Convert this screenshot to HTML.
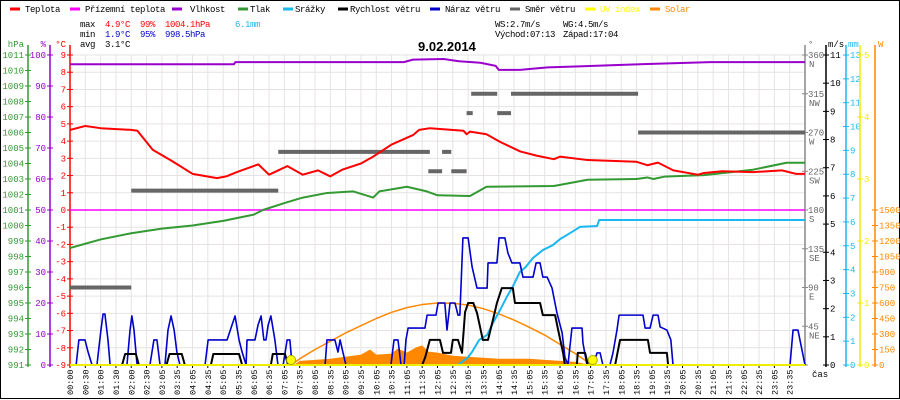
<!DOCTYPE html>
<html><head><meta charset="utf-8"><style>
body{margin:0;background:#fff}
svg{display:block;font-family:"Liberation Mono",monospace;font-size:9px}
</style></head><body>
<svg id="c" width="900" height="400" viewBox="0 0 900 400">
<rect x="0.5" y="0.5" width="899" height="398" fill="#fff" stroke="#000"/>
<g id="grid"></g>
<g id="axes"></g>
<g id="series"></g>
<g font-size="9" letter-spacing="-0.4">
<line x1="10" y1="9" x2="20" y2="9" stroke="#f00" stroke-width="3"/><text x="25" y="12">Teplota</text>
<line x1="70" y1="9" x2="80" y2="9" stroke="#f0f" stroke-width="3"/><text x="85" y="12">Přízemní teplota</text>
<line x1="172" y1="9" x2="182" y2="9" stroke="#90c" stroke-width="3"/><text x="190" y="12">Vlhkost</text>
<line x1="238" y1="9" x2="248" y2="9" stroke="#393" stroke-width="3"/><text x="250" y="12">Tlak</text>
<line x1="283" y1="9" x2="293" y2="9" stroke="#1ab8f0" stroke-width="3"/><text x="295" y="12">Srážky</text>
<line x1="338" y1="9" x2="348" y2="9" stroke="#000" stroke-width="3"/><text x="350" y="12">Rychlost větru</text>
<line x1="430" y1="9" x2="440" y2="9" stroke="#00c" stroke-width="3"/><text x="445" y="12">Náraz větru</text>
<line x1="510" y1="9" x2="520" y2="9" stroke="#666" stroke-width="3"/><text x="525" y="12">Směr větru</text>
<line x1="585" y1="9" x2="595" y2="9" stroke="#ff0" stroke-width="3"/><text x="600" y="12" fill="#ff0">UV index</text>
<line x1="650" y1="9" x2="660" y2="9" stroke="#f80" stroke-width="3"/><text x="665" y="12" fill="#f80">Solar</text>
</g>
<g letter-spacing="-0.4">
<text x="80" y="27">max</text><text x="105" y="27" fill="#f00">4.9°C</text><text x="140" y="27" fill="#f00">99%</text><text x="165" y="27" fill="#f00">1004.1hPa</text><text x="235" y="27" fill="#1ab8f0">6.1mm</text>
<text x="80" y="37">min</text><text x="105" y="37" fill="#00c">1.9°C</text><text x="140" y="37" fill="#00c">95%</text><text x="165" y="37" fill="#00c">998.5hPa</text>
<text x="80" y="47">avg</text><text x="105" y="47">3.1°C</text>
<text x="495" y="27">WS:2.7m/s</text><text x="563" y="27">WG:4.5m/s</text>
<text x="495" y="37">Východ:07:13</text><text x="563" y="37">Západ:17:04</text>
</g>
<text x="418" y="51" font-family="Liberation Sans,sans-serif" font-weight="bold" font-size="13">9.02.2014</text>
</svg>
<script>
const timeLabels=["00:00","00:30","01:00","01:30","02:00","02:30","03:05","03:35","04:05","04:35","05:05","05:35","06:05","06:35","07:05","07:35","08:05","08:35","09:05","09:35","10:05","10:35","11:05","11:35","12:05","12:35","13:05","13:35","14:05","14:35","15:05","15:35","16:05","16:35","17:05","17:35","18:05","18:35","19:05","19:35","20:05","20:35","21:05","21:35","22:05","22:35","23:05","23:35"];
const tempH=[0,0.5,1,2,2.2,2.7,3.37,4.0,4.8,5.1,5.45,6.15,6.5,7.1,7.6,8.1,8.5,8.9,9.5,9.9,10.5,11.2,11.4,11.75,12.85,12.95,13.06,13.6,14.05,14.7,15.25,15.8,16.0,16.9,18.5,18.85,19.2,19.7,20.5,20.7,21.3,22.3,23.25,23.7,24];
const tempV=[4.65,4.88,4.75,4.65,4.6,3.5,2.8,2.1,1.85,1.95,2.2,2.65,2.05,2.55,2.05,2.3,1.95,2.35,2.7,3.1,3.8,4.35,4.65,4.75,4.6,4.4,4.55,4.4,3.95,3.4,3.15,2.95,3.1,2.9,2.8,2.6,2.75,2.3,2.05,2.15,2.25,2.2,2.3,2.1,2.1];
const presH=[0,1,2,3,4,5,6,6.3,7,7.6,8.4,9.25,9.9,10.1,11,11.65,12,13.06,13.6,15.8,16.9,18.5,18.85,19.05,19.4,20.7,22.3,23.4,24];
const presV=[998.55,999.1,999.5,999.8,1000.0,1000.3,1000.7,1001.0,1001.45,1001.8,1002.1,1002.2,1001.8,1002.2,1002.5,1002.2,1001.95,1001.9,1002.5,1002.55,1002.95,1003.0,1003.1,1003.0,1003.15,1003.25,1003.6,1004.05,1004.05];
const humH=[0,5.35,5.4,10.9,11.2,12.2,12.7,13.4,13.9,14.0,14.7,15.0,15.6,16.5,18.6,20.9,24];
const humV=[97.0,97.0,97.7,97.7,98.5,98.7,98.0,97.5,96.5,95.2,95.2,95.5,96.0,96.3,97.0,97.7,97.7];
const dirStart=[0,2.0,6.8,11.7,12.15,12.45,12.95,13.1,13.95,14.4,18.55];
const dirEnd=[2.0,6.8,11.75,12.15,12.45,12.95,13.15,13.95,14.4,18.55,24];
const dirDeg=[90,202.5,247.5,225,247.5,225,292.5,315,292.5,315,270];
const gustH=[0,0.2,0.29,0.49,0.59,0.72,0.88,1.01,1.08,1.14,1.24,1.31,1.86,1.96,2.02,2.09,2.19,2.61,2.74,2.84,2.94,3.1,3.2,3.3,3.4,3.49,3.59,4.41,4.51,5.13,5.29,5.39,5.52,5.62,5.75,5.78,6.04,6.14,6.24,6.33,6.4,6.47,6.56,6.69,6.79,6.96,7.09,7.18,7.25,8.33,8.39,8.65,8.75,8.82,8.91,9.01,10.48,10.58,10.71,10.81,10.91,10.97,11.04,11.59,11.66,11.95,12.02,12.24,12.31,12.41,12.57,12.67,12.73,12.83,13.0,13.13,13.29,13.62,13.65,13.94,14.01,14.2,14.3,14.43,14.69,14.79,15.12,15.22,15.35,15.44,15.58,15.74,15.9,16.07,16.16,16.26,16.39,16.72,16.75,16.88,17.08,17.21,17.31,17.4,17.63,17.73,17.86,17.93,18.71,18.78,18.94,19.04,19.2,19.27,19.49,19.62,19.69,23.51,23.61,23.77,24];
const gustV=[0,0,0.89,0.89,0.46,0,0,1.24,1.81,1.81,0.89,0,0,1.24,1.74,1.24,0,0,0.89,0.89,0,0,1.24,1.74,1.24,0.46,0,0,0.89,0.89,1.42,1.74,0.89,0.46,0,0.89,0.89,1.42,1.74,0.89,0.89,1.42,1.74,0.89,0,0,0.89,0.89,0,0,0.89,0.89,0.46,0.89,0.46,0,0,0.89,0.89,0,0,0.89,1.31,1.31,1.77,1.77,2.2,2.2,1.24,2.2,2.2,1.77,1.77,4.51,4.51,3.48,2.73,2.73,3.62,3.62,4.51,4.51,3.97,3.62,3.62,3.12,3.12,3.62,3.62,3.12,3.12,2.73,1.85,1.14,0.28,0,1.31,1.31,0.78,0,0,0.43,0.43,0,0,0.43,1.24,1.77,1.77,1.31,1.31,1.77,1.77,1.35,1.24,0.89,0,0,1.24,1.24,0];
const windH=[0,1.7,1.8,2.15,2.25,3.15,3.25,3.65,3.75,4.6,4.68,5.52,5.62,6.56,6.62,7.02,7.12,11.5,11.6,11.75,12.08,12.18,12.44,12.5,12.67,12.8,12.9,13.0,13.17,13.29,13.48,13.65,13.81,13.94,14.1,14.46,14.53,15.35,15.44,15.84,15.94,16.1,16.16,16.55,16.58,16.82,16.91,17.8,17.96,18.87,18.94,19.49,19.53,24];
const windV=[0,0,0.39,0.39,0,0,0.39,0.39,0,0,0.39,0.39,0,0,0.39,0.39,0,0,0.28,0.89,0.89,0.43,0.43,0.89,0.89,0.43,1.88,2.2,2.2,1.85,0.89,0.89,1.6,2.2,2.73,2.73,2.2,2.2,1.77,1.77,1.24,0.43,0,0,0.43,0.43,0,0,0.89,0.89,0.43,0.43,0,0];
const rainH=[0,12.67,13.0,13.13,13.36,13.62,13.81,14.04,14.26,14.45,14.69,14.88,15.12,15.44,15.77,16.0,16.39,16.65,17.21,17.28,24];
const rainV=[0,0,0.33,0.55,1.05,1.26,1.76,2.3,2.85,3.27,3.9,4.11,4.49,4.82,5.03,5.28,5.58,5.79,5.83,6.08,6.08];
const solarH=[7.22,7.5,8,8.5,9,9.5,10,10.5,11,11.5,12,12.5,13,13.5,14,14.5,15,15.5,16,16.5,17,17.07];
const solarV=[0,60,150,230,310,380,450,510,555,585,600,598,580,545,495,435,365,290,200,110,10,0];
const solarMeasH=[7.3,7.5,8,8.5,9,9.5,9.8,10,10.5,10.7,11,11.3,11.5,11.7,12,12.5,13,13.5,14,15,15.5,16,16.5,17];
const solarMeasV=[0,40,50,60,80,100,150,100,110,160,120,170,190,130,120,90,80,70,60,60,50,40,30,0];
const sunEvents=[7.22,17.07];

const NS="http://www.w3.org/2000/svg";
const X0=70,X1=805,Y0=55,Y1=365;
const xS=h=>X0+h*(X1-X0)/24;
const yT=v=>Y1-(v+9)*(Y1-Y0)/18;
const yP=v=>Y1-(v-991)*(Y1-Y0)/20;
const yH=v=>Y1-v*(Y1-Y0)/100;
const yD=v=>Y1-v*(Y1-Y0)/360;
const yW=v=>Y1-v*(Y1-Y0)/11;
const yR=v=>Y1-v*(Y1-Y0)/13;
const yU=v=>Y1-v*(Y1-Y0)/5;
const yS=v=>Y1-v*(Y1-Y0)/3000;
function mk(tag,attrs,parent,txt){const e=document.createElementNS(NS,tag);for(const k in attrs)e.setAttribute(k,attrs[k]);if(txt!==undefined)e.textContent=txt;parent.appendChild(e);return e;}
const grid=document.getElementById('grid'),axes=document.getElementById('axes'),ser=document.getElementById('series');
// grid
for(let i=0;i<=18;i++){const y=Y0+i*(Y1-Y0)/18;const l=mk('line',{x1:X0,x2:X1,y1:y,y2:y,stroke:'#e6e2e2'},grid);

}
timeLabels.forEach((t,i)=>{const x=X0+i*(X1-X0)/48;
const l=mk('line',{x1:x,x2:x,y1:Y0,y2:Y1,stroke:'#e6e2e2'},grid);


mk('line',{x1:x,x2:x,y1:Y1,y2:Y1+3,stroke:'#000'},axes);
const tx=mk('text',{x:0,y:0,transform:`translate(${x+3},395) rotate(-90)`,'font-size':'8.5'},axes,t);

});
const cas=mk('text',{x:812,y:377},axes,'čas');


// axis helper
function axis(x,col,vals,yf,side,name,unit,ux){
 const g=mk('g',{fill:col},axes);
 
 
 mk('line',{x1:x,x2:x,y1:45,y2:Y1+2,stroke:col,'stroke-width':1.5},g);
 vals.forEach(v=>{const y=yf(v);mk('line',{x1:x-3,x2:x+3,y1:y,y2:y,stroke:col},g);
 if(side<0)mk('text',{x:x-4,y:y+3,'text-anchor':'end'},g,String(v));else mk('text',{x:x+4,y:y+3},g,String(v));});
 mk('text',{x:ux,y:47,'text-anchor':side<0?'end':'start'},g,unit);
}
const hpaTicks=[];for(let v=991;v<=1011;v++)hpaTicks.push(v);
const pctTicks=[0,10,20,30,40,50,60,70,80,90,100];
const cTicks=[];for(let v=-9;v<=9;v++)cTicks.push(v);
axis(28,'#393',hpaTicks,yP,-1,'hpa-axis','hPa',24);
axis(50,'#90c',pctTicks,yH,-1,'humidity-axis','%',46);
axis(70,'#f00',cTicks,yT,-1,'temperature-axis','°C',66);
const msTicks=[0,1,2,3,4,5,6,7,8,9,10,11];
const mmTicks=[0,1,2,3,4,5,6,7,8,9,10,11,12,13];
const uvTicks=[0,1,2,3,4,5];
const wTicks=[0,150,300,450,600,750,900,1050,1200,1350,1500];
axis(826,'#000',msTicks,yW,1,'wind-speed-axis','m/s',828);
axis(846,'#1ab8f0',mmTicks,yR,1,'rain-axis','mm',848);
axis(860,'#ee0',uvTicks,yU,1,'uv-axis','',862);
axis(875,'#f80',wTicks,yS,1,'solar-axis','W',878);
// direction axis
const dirTicks=[0,45,90,135,180,225,270,315,360];
const dirNames=['','NE','E','SE','S','SW','W','NW','N'];
const dg=mk('g',{fill:'#666'},axes);


mk('line',{x1:805,x2:805,y1:45,y2:Y1,stroke:'#888','stroke-width':1.5},dg);
mk('text',{x:808,y:47},dg,'°');
dirTicks.forEach((d,i)=>{const y=yD(d);mk('line',{x1:802,x2:808,y1:y,y2:y,stroke:'#888'},dg);
 if(d>0){mk('text',{x:808,y:y+3},dg,String(d));mk('text',{x:809,y:y+12},dg,dirNames[i]);}});
// series
function poly(H,V,yf,col,w,name){const p=mk('polyline',{points:H.map((h,i)=>xS(h)+','+yf(V[i])).join(' '),fill:'none',stroke:col,'stroke-width':w,'stroke-linejoin':'round'},ser);
 
 return p;}
// measured solar area
const sa=mk('polygon',{points:xS(solarMeasH[0])+','+Y1+' '+solarMeasH.map((h,i)=>xS(h)+','+yS(solarMeasV[i])).join(' ')+' '+xS(solarMeasH[solarMeasH.length-1])+','+Y1,fill:'#f80'},ser);


const zl=mk('line',{x1:X0,x2:X1,y1:yT(0),y2:yT(0),stroke:'#f0f','stroke-width':1.5},ser);


poly(solarH,solarV,yS,'#f80',1.5,'solar-theoretical-line');
dirStart.forEach((s,i)=>{const r=mk('rect',{x:xS(s),y:yD(dirDeg[i])-2,width:xS(dirEnd[i])-xS(s),height:4,fill:'#666'},ser);
 
 });
poly(humH,humV,yH,'#90c',2,'humidity-line');
poly(presH,presV,yP,'#393',2,'pressure-line');
poly(tempH,tempV,yT,'#f00',2,'temperature-line');
poly(rainH,rainV,yR,'#1ab8f0',2,'rain-line');
poly(gustH,gustV,yW,'#00c',1.6,'wind-gust-line');
poly(windH,windV,yW,'#000',2,'wind-speed-line');
const uv=mk('line',{x1:X0,x2:X1,y1:Y1,y2:Y1,stroke:'#ee0','stroke-width':2},ser);


sunEvents.forEach(h=>{const c=mk('circle',{cx:xS(h),cy:Y1-5,r:4.5,fill:'#ff0',stroke:'#aa0'},ser);
 
 });
mk('line',{x1:X0,x2:X1,y1:Y1+0.5,y2:Y1+0.5,stroke:'#000'},axes);
</script>
</body></html>
